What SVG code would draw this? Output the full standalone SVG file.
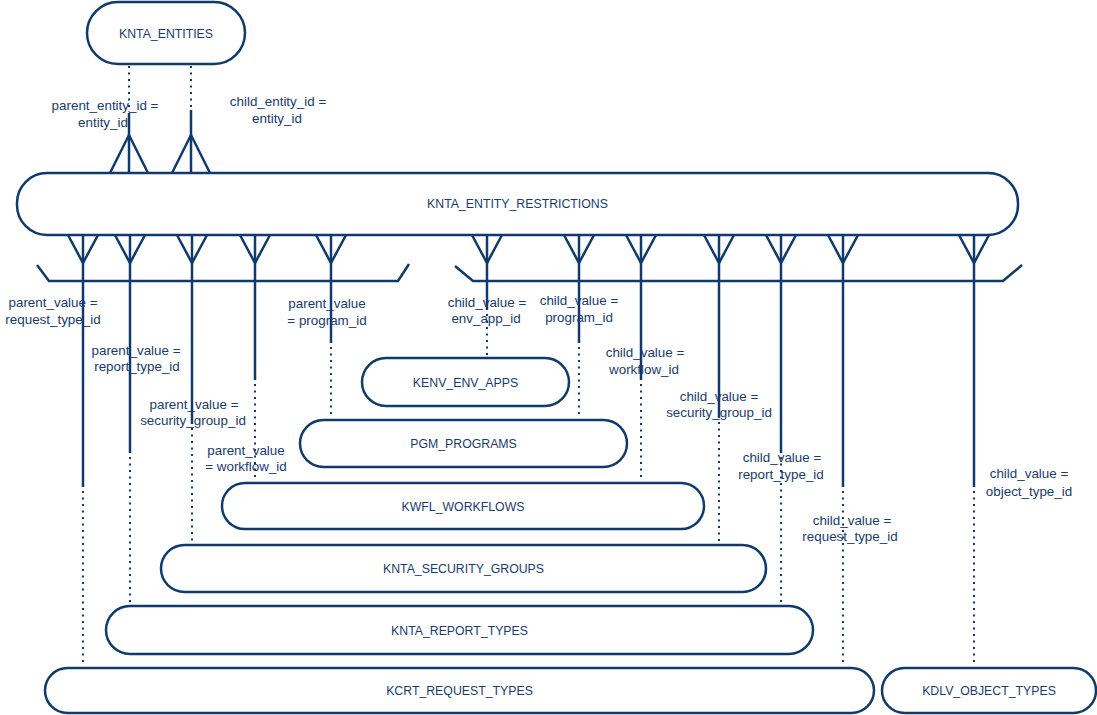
<svg xmlns="http://www.w3.org/2000/svg" width="1097" height="715" viewBox="0 0 1097 715">
<style>
.node rect{fill:#fff;stroke:#0f3a6b;stroke-width:2.5}
.node text{font-family:"Liberation Sans",Arial,sans-serif;font-size:12.3px;fill:#1b3b6b;text-anchor:middle}
.ln{stroke:#0f3a6b;stroke-width:2.5;fill:none}
.dt{stroke:#0f3a6b;stroke-width:2;fill:none;stroke-dasharray:2 4.5}
.lbl{font-family:"Liberation Sans",Arial,sans-serif;font-size:13.4px;fill:#1b3b6b;text-anchor:middle}
</style>
<rect width="1097" height="715" fill="#fff"/>
<g id="connectors">
<!-- top relationships -->
<line class="dt" x1="129" y1="66" x2="129" y2="112"/>
<line class="ln" x1="129" y1="113" x2="129" y2="173"/>
<polyline class="ln" points="110,173 129,135 148,173"/>
<line class="dt" x1="191" y1="66" x2="191" y2="109"/>
<line class="ln" x1="191" y1="110" x2="191" y2="173"/>
<polyline class="ln" points="172,173 191,135 210,173"/>
<!-- brackets -->
<polyline class="ln" points="37,265 49,281 398,281 409,264"/>
<polyline class="ln" points="455,266 473,281 1003,281 1022,265"/>
<!-- crow's feet bottom -->
<polyline class="ln" points="68,235 83,263 98,235"/>
<polyline class="ln" points="115,235 130,263 145,235"/>
<polyline class="ln" points="177,235 192,263 207,235"/>
<polyline class="ln" points="240,235 255,263 270,235"/>
<polyline class="ln" points="316,235 331,263 346,235"/>
<polyline class="ln" points="472,235 487,263 502,235"/>
<polyline class="ln" points="564,235 579,263 594,235"/>
<polyline class="ln" points="626,235 641,263 656,235"/>
<polyline class="ln" points="704,235 719,263 734,235"/>
<polyline class="ln" points="766,235 781,263 796,235"/>
<polyline class="ln" points="828,235 843,263 858,235"/>
<polyline class="ln" points="959,235 974,263 989,235"/>
<!-- verticals solid -->
<line class="ln" x1="83" y1="235" x2="83" y2="487"/>
<line class="ln" x1="130" y1="235" x2="130" y2="453"/>
<line class="ln" x1="192" y1="235" x2="192" y2="424"/>
<line class="ln" x1="255" y1="235" x2="255" y2="380"/>
<line class="ln" x1="331" y1="235" x2="331" y2="343"/>
<line class="ln" x1="487" y1="235" x2="487" y2="310"/>
<line class="ln" x1="579" y1="235" x2="579" y2="343"/>
<line class="ln" x1="641" y1="235" x2="641" y2="380"/>
<line class="ln" x1="719" y1="235" x2="719" y2="418"/>
<line class="ln" x1="781" y1="235" x2="781" y2="453"/>
<line class="ln" x1="843" y1="235" x2="843" y2="487"/>
<line class="ln" x1="974" y1="235" x2="974" y2="487"/>
<!-- verticals dotted -->
<line class="dt" x1="83" y1="491" x2="83" y2="666"/>
<line class="dt" x1="130" y1="457" x2="130" y2="604"/>
<line class="dt" x1="192" y1="428" x2="192" y2="543"/>
<line class="dt" x1="255" y1="384" x2="255" y2="481"/>
<line class="dt" x1="331" y1="347" x2="331" y2="418"/>
<line class="dt" x1="487" y1="314" x2="487" y2="356"/>
<line class="dt" x1="579" y1="347" x2="579" y2="418"/>
<line class="dt" x1="641" y1="384" x2="641" y2="481"/>
<line class="dt" x1="719" y1="422" x2="719" y2="543"/>
<line class="dt" x1="781" y1="457" x2="781" y2="604"/>
<line class="dt" x1="843" y1="491" x2="843" y2="666"/>
<line class="dt" x1="974" y1="491" x2="974" y2="666"/>
<!-- labels -->
<text class="lbl" x="105" y="110">parent_entity_id =</text>
<text class="lbl" x="103" y="127">entity_id</text>
<text class="lbl" x="278" y="106">child_entity_id =</text>
<text class="lbl" x="277" y="123">entity_id</text>
<text class="lbl" x="53" y="307">parent_value =</text>
<text class="lbl" x="53" y="324">request_type_id</text>
<text class="lbl" x="136" y="355">parent_value =</text>
<text class="lbl" x="137" y="371">report_type_id</text>
<text class="lbl" x="194" y="409">parent_value =</text>
<text class="lbl" x="193" y="425">security_group_id</text>
<text class="lbl" x="246" y="455">parent_value</text>
<text class="lbl" x="246" y="471">= workflow_id</text>
<text class="lbl" x="327" y="308">parent_value</text>
<text class="lbl" x="327" y="325">= program_id</text>
<text class="lbl" x="487" y="307">child_value =</text>
<text class="lbl" x="486" y="323">env_app_id</text>
<text class="lbl" x="579" y="305">child_value =</text>
<text class="lbl" x="579" y="322">program_id</text>
<text class="lbl" x="645" y="357">child_value =</text>
<text class="lbl" x="644" y="374">workflow_id</text>
<text class="lbl" x="719" y="401">child_value =</text>
<text class="lbl" x="719" y="417">security_group_id</text>
<text class="lbl" x="782" y="462">child_value =</text>
<text class="lbl" x="781" y="479">report_type_id</text>
<text class="lbl" x="852" y="525">child_value =</text>
<text class="lbl" x="850" y="541">request_type_id</text>
<text class="lbl" x="1029" y="478">child_value =</text>
<text class="lbl" x="1029" y="496">object_type_id</text>
</g>
<g id="KNTA_ENTITIES" class="node"><rect x="87" y="2" width="158" height="62" rx="31"/><text x="166" y="38">KNTA_ENTITIES</text></g>
<g id="KNTA_ENTITY_RESTRICTIONS" class="node"><rect x="17" y="173" width="1001" height="62" rx="30"/><text x="517.5" y="208">KNTA_ENTITY_RESTRICTIONS</text></g>
<g id="KENV_ENV_APPS" class="node"><rect x="362" y="358" width="207" height="48" rx="24"/><text x="465.5" y="386.5">KENV_ENV_APPS</text></g>
<g id="PGM_PROGRAMS" class="node"><rect x="300" y="420" width="327" height="47" rx="23.5"/><text x="463.5" y="448">PGM_PROGRAMS</text></g>
<g id="KWFL_WORKFLOWS" class="node"><rect x="222" y="483" width="482" height="46" rx="23"/><text x="463" y="510.5">KWFL_WORKFLOWS</text></g>
<g id="KNTA_SECURITY_GROUPS" class="node"><rect x="161" y="545" width="605" height="47" rx="23.5"/><text x="463.5" y="573">KNTA_SECURITY_GROUPS</text></g>
<g id="KNTA_REPORT_TYPES" class="node"><rect x="106" y="606" width="707" height="48" rx="24"/><text x="459.5" y="634.5">KNTA_REPORT_TYPES</text></g>
<g id="KCRT_REQUEST_TYPES" class="node"><rect x="45" y="668" width="829" height="45" rx="22.5"/><text x="459.5" y="695">KCRT_REQUEST_TYPES</text></g>
<g id="KDLV_OBJECT_TYPES" class="node"><rect x="882" y="668" width="214" height="45" rx="22.5"/><text x="989" y="695">KDLV_OBJECT_TYPES</text></g>
</svg>
